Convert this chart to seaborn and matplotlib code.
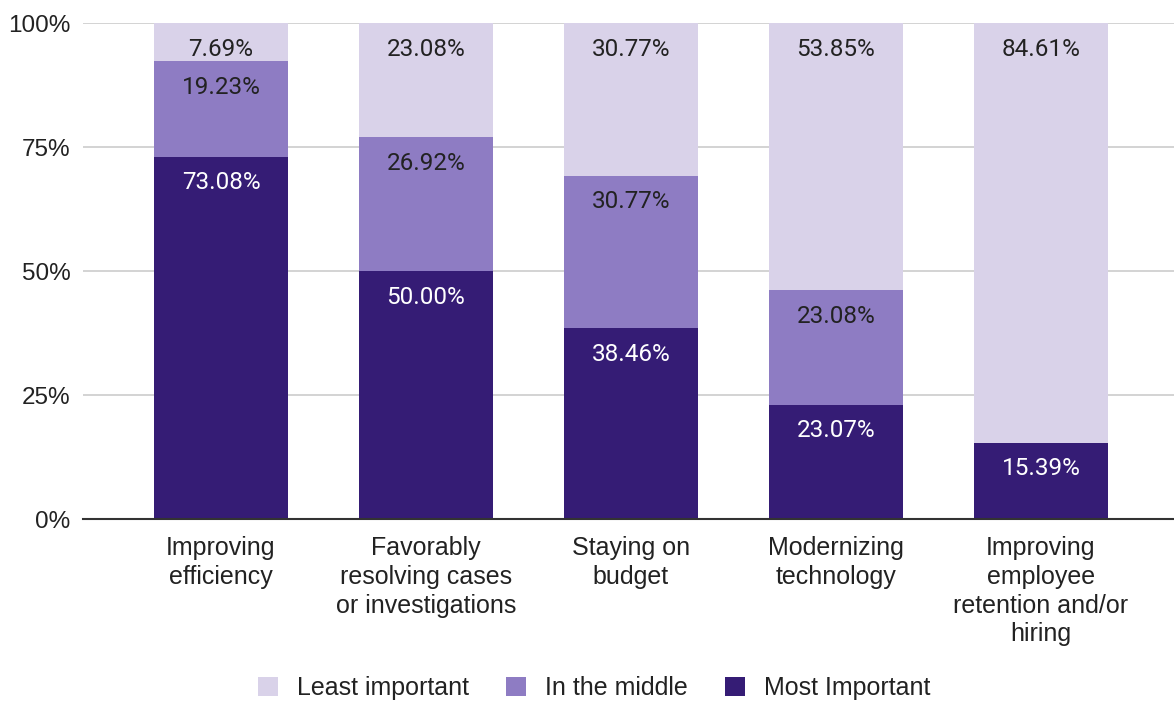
import numpy as np
import pandas as pd
import seaborn as sns
import matplotlib.pyplot as plt
from matplotlib.patches import Patch

categories = ['Improving\nefficiency', 'Favorably\nresolving cases\nor investigations',
              'Staying on\nbudget', 'Modernizing\ntechnology',
              'Improving\nemployee\nretention and/or\nhiring']
least = [7.69, 23.08, 30.77, 53.85, 84.61]
middle = [19.23, 26.92, 30.77, 23.08, 0.0]
most = [73.08, 50.00, 38.46, 23.07, 15.39]

series_names = ['Least important', 'In the middle', 'Most Important']
colors = ['#d9d2e9', '#8e7cc3', '#351c75']
label_colors = ['#222222', '#222222', '#ffffff']

sns.set_theme(style='white')
plt.rcParams['font.family'] = ['Liberation Sans', 'DejaVu Sans']

df = pd.DataFrame({'category': categories, 'least': least, 'middle': middle, 'most': most})
df['top_most'] = df['most']
df['top_middle'] = df['most'] + df['middle']
df['top_least'] = df['most'] + df['middle'] + df['least']

fig = plt.figure(figsize=(11.74, 7.01), dpi=100)
ax = fig.add_axes([83 / 1174, 1 - 519 / 701, 1 - 83 / 1174, (519 - 23) / 701])

# stacked: draw cumulative totals from the top layer down
for col, color in zip(['top_least', 'top_middle', 'top_most'], colors):
    sns.barplot(data=df, x='category', y=col, color=color, width=0.65,
                saturation=1, linewidth=0, ax=ax, zorder=2)

# value labels near top of each segment
for col, val_col, lc in zip(['top_least', 'top_middle', 'top_most'],
                            ['least', 'middle', 'most'], label_colors):
    for i, (top, v) in enumerate(zip(df[col], df[val_col])):
        if v <= 0:
            continue
        ax.annotate(f'{v:.2f}%', xy=(i, top), xytext=(0, -26), textcoords='offset pixels',
                    ha='center', va='center', fontsize=17.5, color=lc, zorder=3,
                    family=['Roboto', 'DejaVu Sans'])

ax.set_ylim(0, 100)
ax.set_xlim(-0.673, 4.649)
ax.set_yticks([0, 25, 50, 75, 100])
ax.set_yticklabels(['0%', '25%', '50%', '75%', '100%'])
ax.yaxis.grid(True, color='#cccccc', linewidth=1.2, zorder=0)
ax.set_axisbelow(True)
ax.tick_params(axis='y', length=0, pad=9, labelsize=17.5, labelcolor='#222222')
ax.tick_params(axis='x', length=0, pad=12, labelsize=18, labelcolor='#222222')
for lbl in ax.get_xticklabels():
    lbl.set_linespacing(1.26)
ax.set_xlabel('')
ax.set_ylabel('')
for s in ['top', 'right', 'left']:
    ax.spines[s].set_visible(False)
ax.spines['bottom'].set_color('#333333')
ax.spines['bottom'].set_linewidth(1.5)
ax.spines['bottom'].set_zorder(4)

handles = [Patch(facecolor=c, edgecolor='none', label=n) for c, n in zip(colors, series_names)]
fig.legend(handles=handles, loc='center', bbox_to_anchor=(594 / 1174, 1 - 688 / 701), ncol=3,
           frameon=False, fontsize=18, handlelength=0.8, handleheight=0.8,
           handletextpad=0.75, columnspacing=1.5, labelcolor='#222222')

fig.savefig('out.png', dpi=100)
